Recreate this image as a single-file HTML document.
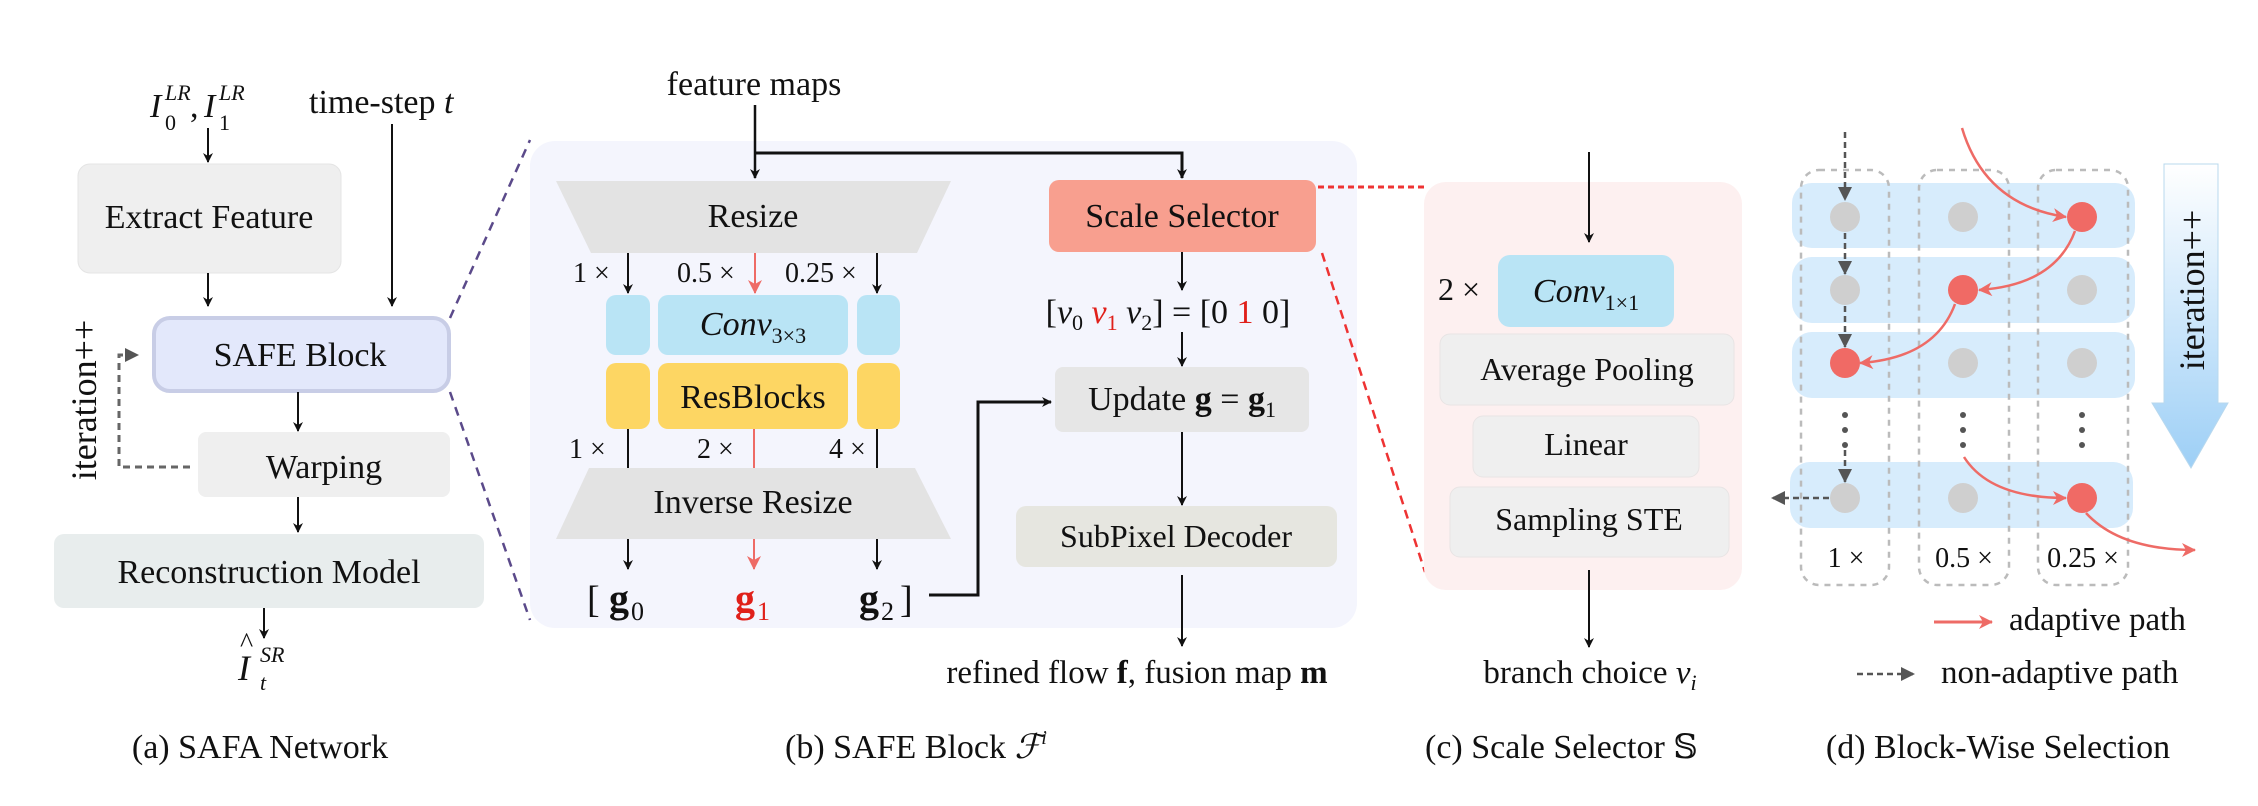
<!DOCTYPE html>
<html><head><meta charset="utf-8"><style>
html,body{margin:0;padding:0;background:#fff;}
svg{display:block;font-family:"Liberation Serif","DejaVu Serif",serif;}
svg text{font-family:"Liberation Serif","DejaVu Serif",serif;fill:#111;}
</style></head><body>
<svg width="2258" height="806" viewBox="0 0 2258 806" xmlns="http://www.w3.org/2000/svg" font-family="Liberation Serif, DejaVu Serif, serif">
<defs>
<marker id="ab" markerWidth="10" markerHeight="10" refX="9" refY="5" orient="auto" markerUnits="userSpaceOnUse"><path d="M0,0 L10,5 L0,10 L3,5 Z" fill="#111"/></marker>
<marker id="ar" markerWidth="14" markerHeight="14" refX="13" refY="7" orient="auto" markerUnits="userSpaceOnUse"><path d="M0,0 L14,7 L0,14 L4,7 Z" fill="#ee6b66"/></marker>
<marker id="ag" markerWidth="14" markerHeight="14" refX="13" refY="7" orient="auto" markerUnits="userSpaceOnUse"><path d="M0,0 L14,7 L0,14 Z" fill="#555"/></marker>
<linearGradient id="gi" x1="0" y1="0" x2="0" y2="1"><stop offset="0" stop-color="#ffffff"/><stop offset="1" stop-color="#9dcff6"/></linearGradient>
</defs>

<!-- (a) -->
<text x="150" y="117" font-size="34" font-style="italic">I</text>
<text x="165" y="100" font-size="22" font-style="italic">LR</text>
<text x="165" y="130" font-size="22">0</text>
<text x="190" y="117" font-size="34">,</text>
<text x="204" y="117" font-size="34" font-style="italic">I</text>
<text x="219" y="100" font-size="22" font-style="italic">LR</text>
<text x="219" y="130" font-size="22">1</text>
<text x="309" y="113" font-size="34">time-step <tspan font-style="italic">t</tspan></text>
<line x1="208" y1="128" x2="208" y2="162" stroke="#111" stroke-width="2" marker-end="url(#ab)"/>
<rect x="78" y="164" width="263" height="109" rx="12" fill="#efefef" stroke="#e4e4e4"/>
<text x="209" y="228" font-size="34" text-anchor="middle">Extract Feature</text>
<line x1="208" y1="273" x2="208" y2="306" stroke="#111" stroke-width="2" marker-end="url(#ab)"/>
<line x1="392" y1="124" x2="392" y2="306" stroke="#111" stroke-width="2" marker-end="url(#ab)"/>
<rect x="154" y="318" width="295" height="73" rx="16" fill="#e3e8fb" stroke="#c8cde6" stroke-width="4"/>
<text x="300" y="366" font-size="34" text-anchor="middle">SAFE Block</text>
<line x1="298" y1="392" x2="298" y2="431" stroke="#111" stroke-width="2" marker-end="url(#ab)"/>
<rect x="198" y="432" width="252" height="65" rx="8" fill="#efefef"/>
<text x="324" y="478" font-size="34" text-anchor="middle">Warping</text>
<polyline points="190,467 119,467 119,355 138,355" fill="none" stroke="#666" stroke-width="3" stroke-dasharray="7,5" marker-end="url(#ag)"/>
<text transform="translate(96,400) rotate(-90)" font-size="36" text-anchor="middle">iteration++</text>
<line x1="298" y1="497" x2="298" y2="532" stroke="#111" stroke-width="2" marker-end="url(#ab)"/>
<rect x="54" y="534" width="430" height="74" rx="10" fill="#e8eded"/>
<text x="269" y="583" font-size="34" text-anchor="middle">Reconstruction Model</text>
<line x1="264" y1="608" x2="264" y2="638" stroke="#111" stroke-width="2" marker-end="url(#ab)"/>
<text x="238" y="680" font-size="36" font-style="italic">I</text>
<text x="240" y="652" font-size="28">^</text>
<text x="260" y="662" font-size="22" font-style="italic">SR</text>
<text x="260" y="690" font-size="22" font-style="italic">t</text>
<text x="260" y="758" font-size="34" text-anchor="middle">(a) SAFA Network</text>

<!-- dashed purple -->
<line x1="450" y1="318" x2="530" y2="140" stroke="#5b4a8a" stroke-width="2.5" stroke-dasharray="9,7"/>
<line x1="450" y1="392" x2="530" y2="620" stroke="#5b4a8a" stroke-width="2.5" stroke-dasharray="9,7"/>

<!-- (b) -->
<rect x="530" y="141" width="827" height="487" rx="25" fill="#f4f5fd"/>
<text x="754" y="95" font-size="34" text-anchor="middle">feature maps</text>
<line x1="755" y1="105" x2="755" y2="178" stroke="#111" stroke-width="2.5" marker-end="url(#ab)"/>
<polyline points="755,153 1182,153 1182,178" fill="none" stroke="#111" stroke-width="3" marker-end="url(#ab)"/>
<polygon points="556,181 951,181 917,253 591,253" fill="#e3e3e3"/>
<text x="753" y="227" font-size="34" text-anchor="middle">Resize</text>
<text x="573" y="282" font-size="28">1 ×</text>
<text x="677" y="282" font-size="28">0.5 ×</text>
<text x="785" y="282" font-size="28">0.25 ×</text>
<line x1="628" y1="253" x2="628" y2="293" stroke="#111" stroke-width="2" marker-end="url(#ab)"/>
<line x1="755" y1="253" x2="755" y2="293" stroke="#ee6b66" stroke-width="2" marker-end="url(#ar)"/>
<line x1="877" y1="253" x2="877" y2="293" stroke="#111" stroke-width="2" marker-end="url(#ab)"/>
<rect x="606" y="295" width="44" height="60" rx="10" fill="#b9e4f5"/>
<rect x="658" y="295" width="190" height="60" rx="10" fill="#b9e4f5"/>
<rect x="857" y="295" width="43" height="60" rx="10" fill="#b9e4f5"/>
<text x="753" y="335" font-size="34" text-anchor="middle"><tspan font-style="italic">Conv</tspan><tspan font-size="22" dy="8">3×3</tspan></text>
<rect x="606" y="363" width="44" height="66" rx="10" fill="#fdd663"/>
<rect x="658" y="363" width="190" height="66" rx="10" fill="#fdd663"/>
<rect x="857" y="363" width="43" height="66" rx="10" fill="#fdd663"/>
<text x="753" y="408" font-size="34" text-anchor="middle">ResBlocks</text>
<line x1="628" y1="429" x2="628" y2="468" stroke="#111" stroke-width="2"/>
<line x1="754" y1="429" x2="754" y2="468" stroke="#ee6b66" stroke-width="2"/>
<line x1="877" y1="429" x2="877" y2="468" stroke="#111" stroke-width="2"/>
<text x="569" y="458" font-size="28">1 ×</text>
<text x="697" y="458" font-size="28">2 ×</text>
<text x="829" y="458" font-size="28">4 ×</text>
<polygon points="589,468 915,468 951,539 556,539" fill="#e3e3e3"/>
<text x="753" y="513" font-size="34" text-anchor="middle">Inverse Resize</text>
<line x1="628" y1="539" x2="628" y2="569" stroke="#111" stroke-width="2" marker-end="url(#ab)"/>
<line x1="754" y1="539" x2="754" y2="569" stroke="#ee6b66" stroke-width="2" marker-end="url(#ar)"/>
<line x1="877" y1="539" x2="877" y2="569" stroke="#111" stroke-width="2" marker-end="url(#ab)"/>
<text x="587" y="612" font-size="38">[</text>
<text x="609" y="612" font-size="40" font-weight="bold">g</text><text x="631" y="620" font-size="26">0</text>
<text x="735" y="612" font-size="40" font-weight="bold" style="fill:#e0201a">g</text><text x="757" y="620" font-size="26" style="fill:#e0201a">1</text>
<text x="859" y="612" font-size="40" font-weight="bold">g</text><text x="881" y="620" font-size="26">2</text>
<text x="900" y="612" font-size="38">]</text>
<polyline points="929,595 978,595 978,402 1051,402" fill="none" stroke="#111" stroke-width="3" marker-end="url(#ab)"/>
<rect x="1049" y="180" width="267" height="72" rx="10" fill="#f89f8f"/>
<text x="1182" y="227" font-size="34" text-anchor="middle">Scale Selector</text>
<line x1="1182" y1="252" x2="1182" y2="290" stroke="#111" stroke-width="2" marker-end="url(#ab)"/>
<text x="1168" y="323" font-size="34" text-anchor="middle">[<tspan font-style="italic">v</tspan><tspan font-size="22" dy="7">0</tspan><tspan dy="-7"> </tspan><tspan font-style="italic" style="fill:#e0201a">v</tspan><tspan font-size="22" dy="7" style="fill:#e0201a">1</tspan><tspan dy="-7"> </tspan><tspan font-style="italic">v</tspan><tspan font-size="22" dy="7">2</tspan><tspan dy="-7">] = [0 </tspan><tspan style="fill:#e0201a">1</tspan> 0]</text>
<line x1="1182" y1="332" x2="1182" y2="366" stroke="#111" stroke-width="2" marker-end="url(#ab)"/>
<rect x="1055" y="367" width="254" height="65" rx="8" fill="#e6e6e6"/>
<text x="1182" y="410" font-size="34" text-anchor="middle">Update <tspan font-weight="bold">g</tspan> = <tspan font-weight="bold">g</tspan><tspan font-size="22" dy="7">1</tspan></text>
<line x1="1182" y1="432" x2="1182" y2="505" stroke="#111" stroke-width="2" marker-end="url(#ab)"/>
<rect x="1016" y="506" width="321" height="61" rx="10" fill="#e6e6e0"/>
<text x="1176" y="547" font-size="32" text-anchor="middle">SubPixel Decoder</text>
<line x1="1182" y1="575" x2="1182" y2="646" stroke="#111" stroke-width="2" marker-end="url(#ab)"/>
<text x="1137" y="683" font-size="33" text-anchor="middle">refined flow <tspan font-weight="bold">f</tspan>, fusion map <tspan font-weight="bold">m</tspan></text>
<text x="785" y="758" font-size="34">(b) SAFE Block <tspan font-style="italic">ℱ</tspan><tspan font-size="20" dy="-14" font-style="italic">i</tspan></text>

<!-- red dashed -->
<line x1="1318" y1="187" x2="1428" y2="187" stroke="#e33" stroke-width="3" stroke-dasharray="6,4"/>
<line x1="1322" y1="253" x2="1425" y2="572" stroke="#e33" stroke-width="2.5" stroke-dasharray="9,6"/>

<!-- (c) -->
<rect x="1424" y="182" width="318" height="408" rx="22" fill="#fdf0f0"/>
<line x1="1589" y1="152" x2="1589" y2="242" stroke="#111" stroke-width="2" marker-end="url(#ab)"/>
<text x="1438" y="300" font-size="32">2 ×</text>
<rect x="1498" y="255" width="176" height="72" rx="12" fill="#b9e4f5"/>
<text x="1586" y="302" font-size="34" text-anchor="middle"><tspan font-style="italic">Conv</tspan><tspan font-size="22" dy="8">1×1</tspan></text>
<rect x="1440" y="334" width="294" height="71" rx="10" fill="#efefef" stroke="#e8e4e4"/>
<text x="1587" y="380" font-size="32" text-anchor="middle">Average Pooling</text>
<rect x="1473" y="416" width="226" height="61" rx="10" fill="#efefef" stroke="#e8e4e4"/>
<text x="1586" y="455" font-size="32" text-anchor="middle">Linear</text>
<rect x="1450" y="487" width="279" height="70" rx="10" fill="#efefef" stroke="#e8e4e4"/>
<text x="1589" y="530" font-size="32" text-anchor="middle">Sampling STE</text>
<line x1="1589" y1="570" x2="1589" y2="647" stroke="#111" stroke-width="2" marker-end="url(#ab)"/>
<text x="1590" y="683" font-size="33" text-anchor="middle">branch choice <tspan font-style="italic">v</tspan><tspan font-size="22" dy="7" font-style="italic">i</tspan></text>
<text x="1425" y="758" font-size="34">(c) Scale Selector 𝕊</text>

<!-- (d) -->
<g fill="#d7ecfc">
<rect x="1792" y="183" width="343" height="65" rx="20"/>
<rect x="1792" y="257" width="343" height="66" rx="20"/>
<rect x="1792" y="332" width="343" height="66" rx="20"/>
<rect x="1790" y="462" width="343" height="66" rx="20"/>
</g>
<g fill="none" stroke="#bbb" stroke-width="2.5" stroke-dasharray="6,6">
<rect x="1801" y="170" width="88" height="415" rx="18"/>
<rect x="1919" y="170" width="90" height="415" rx="18"/>
<rect x="2038" y="170" width="90" height="415" rx="18"/>
</g>
<g fill="#cfcfcf">
<circle cx="1845" cy="217" r="15"/><circle cx="1963" cy="217" r="15"/>
<circle cx="1845" cy="290" r="15"/><circle cx="2082" cy="290" r="15"/>
<circle cx="1963" cy="363" r="15"/><circle cx="2082" cy="363" r="15"/>
<circle cx="1845" cy="498" r="15"/><circle cx="1963" cy="498" r="15"/>
</g>
<g fill="#f06a65">
<circle cx="2082" cy="217" r="15"/><circle cx="1963" cy="290" r="15"/>
<circle cx="1845" cy="363" r="15"/><circle cx="2082" cy="498" r="15"/>
</g>
<g fill="#555">
<circle cx="1845" cy="415" r="3"/><circle cx="1845" cy="430" r="3"/><circle cx="1845" cy="445" r="3"/>
<circle cx="1963" cy="415" r="3"/><circle cx="1963" cy="430" r="3"/><circle cx="1963" cy="445" r="3"/>
<circle cx="2082" cy="415" r="3"/><circle cx="2082" cy="430" r="3"/><circle cx="2082" cy="445" r="3"/>
</g>
<g stroke="#555" stroke-width="2.5" stroke-dasharray="6,4" fill="none">
<line x1="1845" y1="132" x2="1845" y2="200" marker-end="url(#ag)"/>
<line x1="1845" y1="233" x2="1845" y2="274" marker-end="url(#ag)"/>
<line x1="1845" y1="306" x2="1845" y2="347" marker-end="url(#ag)"/>
<line x1="1845" y1="450" x2="1845" y2="482" marker-end="url(#ag)"/>
<line x1="1829" y1="498" x2="1772" y2="498" marker-end="url(#ag)"/>
</g>
<g stroke="#ee6b66" stroke-width="2.5" fill="none">
<path d="M1962,128 Q1985,205 2066,217" marker-end="url(#ar)"/>
<path d="M2075,231 Q2055,285 1979,290" marker-end="url(#ar)"/>
<path d="M1955,304 Q1935,358 1860,363" marker-end="url(#ar)"/>
<path d="M1964,457 Q1990,498 2066,498" marker-end="url(#ar)"/>
<path d="M2086,513 Q2120,550 2195,550" marker-end="url(#ar)"/>
</g>
<text x="1846" y="567" font-size="28" text-anchor="middle">1 ×</text>
<text x="1964" y="567" font-size="28" text-anchor="middle">0.5 ×</text>
<text x="2083" y="567" font-size="28" text-anchor="middle">0.25 ×</text>
<polygon points="2164,164 2218,164 2218,403 2228,403 2191,468 2152,403 2164,403" fill="url(#gi)" stroke="#b8d8ee" stroke-width="1"/>
<text transform="translate(2204,290) rotate(-90)" font-size="36" text-anchor="middle">iteration++</text>
<line x1="1934" y1="622" x2="1992" y2="622" stroke="#ee6b66" stroke-width="3" marker-end="url(#ar)"/>
<text x="2009" y="630" font-size="33">adaptive path</text>
<line x1="1857" y1="674" x2="1914" y2="674" stroke="#555" stroke-width="2.5" stroke-dasharray="6,4" marker-end="url(#ag)"/>
<text x="1941" y="683" font-size="33">non-adaptive path</text>
<text x="1998" y="758" font-size="34" text-anchor="middle">(d) Block-Wise Selection</text>
</svg>
</body></html>
